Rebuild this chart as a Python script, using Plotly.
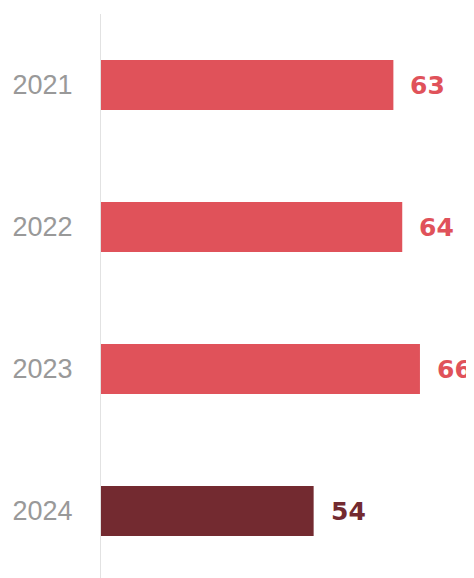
""" Horizontal bars by year. """

import plotly.graph_objects as go


years = ["2021", "2022", "2023", "2024"]
values = [63, 64, 66, 54]
colors = ["#E0525A", "#E0525A", "#E0525A", "#732A30"]
AXIS_START = 30

fig = go.Figure(
    go.Bar(
        x=[v - AXIS_START for v in values],
        y=years,
        base=AXIS_START,
        orientation="h",
        marker=dict(color=colors, line=dict(width=0)),
        width=0.352,
        hoverinfo="skip",
    )
)

# value labels, placed by category index
for i, (val, col) in enumerate(zip(values, colors)):
    fig.add_annotation(
        x=val,
        y=i,
        text=f"<b>{val}</b>",
        showarrow=False,
        xanchor="left",
        xshift=15,
        font=dict(family="DejaVu Sans", size=25, color=col),
    )

fig.update_xaxes(
    range=[AXIS_START, 72.1],
    visible=False,
    showgrid=False,
    zeroline=False,
)
fig.update_yaxes(
    type="category",
    range=[3.528, -0.5],
    showline=True,
    linecolor="#E2E2E2",
    linewidth=1,
    showgrid=False,
    ticks="",
    ticklabelstandoff=22,
    tickfont=dict(family="Liberation Sans, Arial", size=27, color="#999999"),
)
fig.update_layout(
    width=500,
    height=578,
    margin={"l": 93, "r": 34, "t": 6, "b": 0},
    plot_bgcolor="white",
    paper_bgcolor="white",
    showlegend=False,
)

fig.write_html("out.html")
